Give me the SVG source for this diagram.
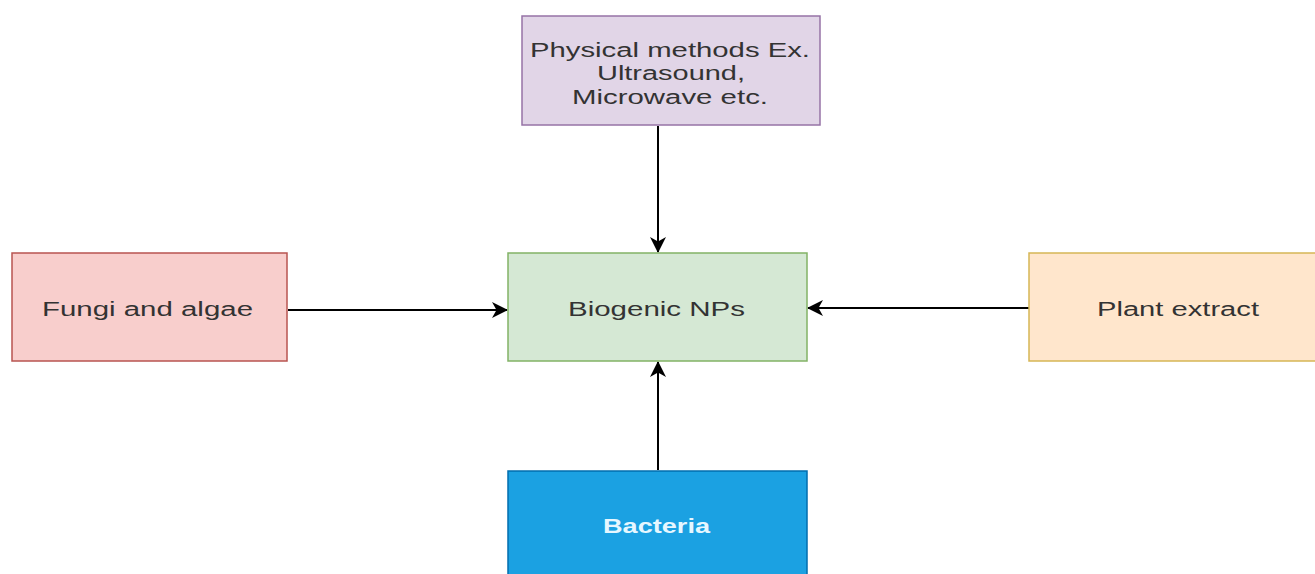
<svg xmlns="http://www.w3.org/2000/svg" width="1315" height="574" viewBox="0 0 1315 574">
<style>
.lbl{font-family:"Liberation Sans",Arial,sans-serif;font-size:20px;fill:#333333}
.edge{stroke:#000000;stroke-width:2;fill:none}
</style>
<defs>
<marker id="arr" viewBox="0 0 16 16" refX="15" refY="8" markerWidth="16" markerHeight="16" markerUnits="userSpaceOnUse" orient="auto">
<path d="M0,0 L16,8 L0,16 L4.5,8 Z" fill="#000000"/>
</marker>
</defs>
<rect width="1315" height="574" fill="#ffffff"/>
<g id="connectors">
<line class="edge" x1="658" y1="126" x2="658" y2="252" marker-end="url(#arr)"/>
<line class="edge" x1="288" y1="310" x2="507" y2="310" marker-end="url(#arr)"/>
<line class="edge" x1="1029" y1="308" x2="808" y2="308" marker-end="url(#arr)"/>
<line class="edge" x1="658" y1="470" x2="658" y2="362" marker-end="url(#arr)"/>
</g>
<g id="physical">
<rect x="522" y="16" width="298" height="109" fill="#e1d5e7" stroke="#9673a6" stroke-width="1.5"/>
<text class="lbl" x="530" y="57" textLength="280" lengthAdjust="spacingAndGlyphs">Physical methods Ex.</text>
<text class="lbl" x="597" y="80" textLength="148" lengthAdjust="spacingAndGlyphs">Ultrasound,</text>
<text class="lbl" x="572" y="104" textLength="196" lengthAdjust="spacingAndGlyphs">Microwave etc.</text>
</g>
<g id="fungi">
<rect x="12" y="253" width="275" height="108" fill="#f8cecc" stroke="#b85450" stroke-width="1.5"/>
<text class="lbl" x="42" y="316" textLength="211" lengthAdjust="spacingAndGlyphs">Fungi and algae</text>
</g>
<g id="biogenic">
<rect x="508" y="253" width="299" height="108" fill="#d5e8d4" stroke="#82b366" stroke-width="1.5"/>
<text class="lbl" x="568" y="316" textLength="177" lengthAdjust="spacingAndGlyphs">Biogenic NPs</text>
</g>
<g id="plant">
<rect x="1029" y="253" width="290" height="108" fill="#ffe6cc" stroke="#d6b656" stroke-width="1.5"/>
<text class="lbl" x="1097" y="316" textLength="162" lengthAdjust="spacingAndGlyphs">Plant extract</text>
</g>
<g id="bacteria">
<rect x="508" y="471" width="299" height="110" fill="#1ba1e2" stroke="#006eaf" stroke-width="1.5"/>
<text class="lbl" x="603" y="533" textLength="107" lengthAdjust="spacingAndGlyphs" style="fill:#e6f7ff;font-weight:bold">Bacteria</text>
</g>
</svg>
